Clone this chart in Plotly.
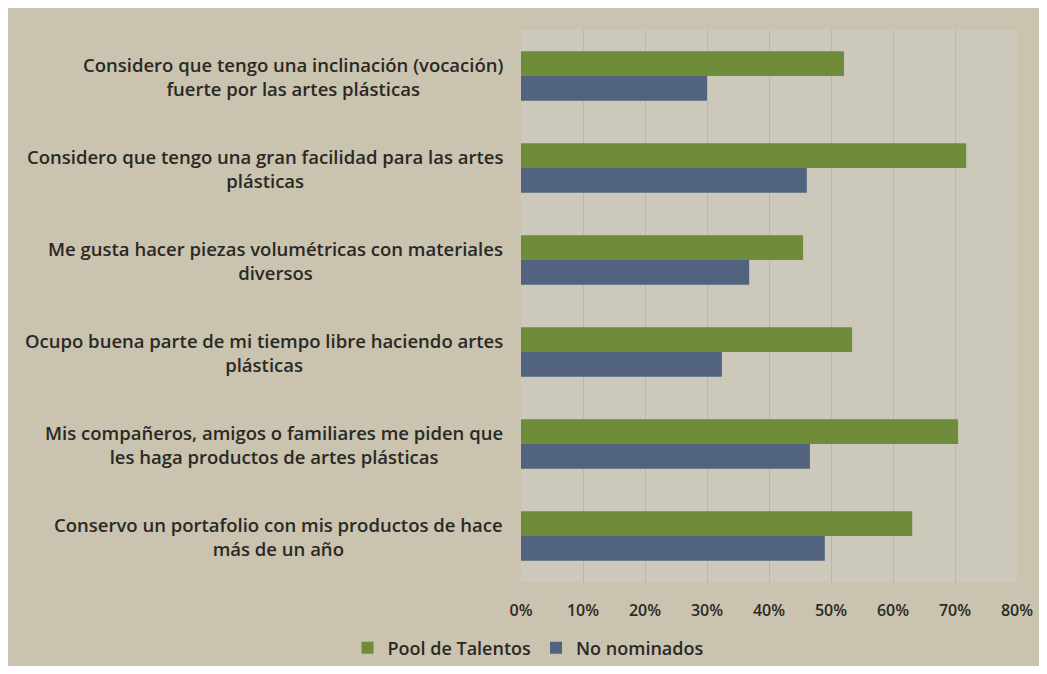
import plotly.graph_objects as go

categories = [
    "Considero que tengo una inclinación (vocación)<br>fuerte por las artes plásticas",
    "Considero que tengo una gran facilidad para las artes<br>plásticas",
    "Me gusta hacer piezas volumétricas con materiales<br>diversos",
    "Ocupo buena parte de mi tiempo libre haciendo artes<br>plásticas",
    "Mis compañeros, amigos o familiares me piden que<br>les haga productos de artes plásticas",
    "Conservo un portafolio con mis productos de hace<br>más de un año",
]
pool_talentos = [0.521, 0.718, 0.455, 0.534, 0.705, 0.631]
no_nominados = [0.300, 0.461, 0.368, 0.324, 0.466, 0.490]
tick_vals = [0, 0.1, 0.2, 0.3, 0.4, 0.5, 0.6, 0.7, 0.8]
tick_text = ["0%", "10%", "20%", "30%", "40%", "50%", "60%", "70%", "80%"]
series_names = ["Pool de Talentos", "No nominados"]

# page has an 8px body margin; screen coordinates below are converted
OFF = 8
W, H = 1047 - 2 * OFF, 674 - 2 * OFF
L, R, T, B = 521 - OFF, 22, 30 - OFF, 84
FONT = "'Open Sans', Lato, sans-serif"
TXT = "#2a2924"

fig = go.Figure()
fig.add_trace(go.Bar(y=categories, x=pool_talentos, orientation="h",
                     name=series_names[0], marker=dict(color="#6f8c3a", line=dict(width=0))))
fig.add_trace(go.Bar(y=categories, x=no_nominados, orientation="h",
                     name=series_names[1], marker=dict(color="#52637f", line=dict(width=0))))

pw = W - L - R
ph = H - T - B
def px_x(p):
    return (p - OFF - L) / pw
def px_y(p):
    return (H - B - (p - OFF)) / ph

annotations = []
for cat in categories:
    annotations.append(dict(
        x=px_x(505), xref="paper", y=cat, yref="y",
        text=cat, showarrow=False, xanchor="right", yanchor="middle",
        align="center",
        font=dict(family=FONT, size=18.5, color=TXT, weight=600),
    ))

shapes = [
    dict(type="rect", xref="paper", yref="paper",
         x0=0, x1=1, y0=0, y1=1,
         fillcolor="#ccc9ba", line=dict(width=0), layer="below"),
]

fig.update_layout(
    width=W, height=H,
    margin=dict(l=L, r=R, t=T, b=B, autoexpand=False),
    paper_bgcolor="#c9c3af",
    plot_bgcolor="rgba(0,0,0,0)",
    barmode="group", bargap=0.46, bargroupgap=0,
    font=dict(family=FONT, size=16, color=TXT),
    showlegend=True,
    legend=dict(orientation="h", x=px_x(528), xanchor="center",
                y=px_y(648), yanchor="middle",
                font=dict(family=FONT, size=18, color=TXT, weight=600),
                itemwidth=30, traceorder="normal", bgcolor="rgba(0,0,0,0)"),
    xaxis=dict(range=[0, 0.8], tickvals=tick_vals, ticktext=tick_text,
               showgrid=True, gridcolor="#b9b7a6", gridwidth=1,
               zeroline=False, showline=False,
               ticks="outside", ticklen=14, tickcolor="rgba(0,0,0,0)",
               tickfont=dict(family=FONT, size=16, color=TXT, weight=600),
               fixedrange=True),
    yaxis=dict(autorange="reversed", showticklabels=False, showgrid=False,
               zeroline=False, showline=False, fixedrange=True),
    annotations=annotations,
    shapes=shapes,
)

fig.write_html("out.html")
